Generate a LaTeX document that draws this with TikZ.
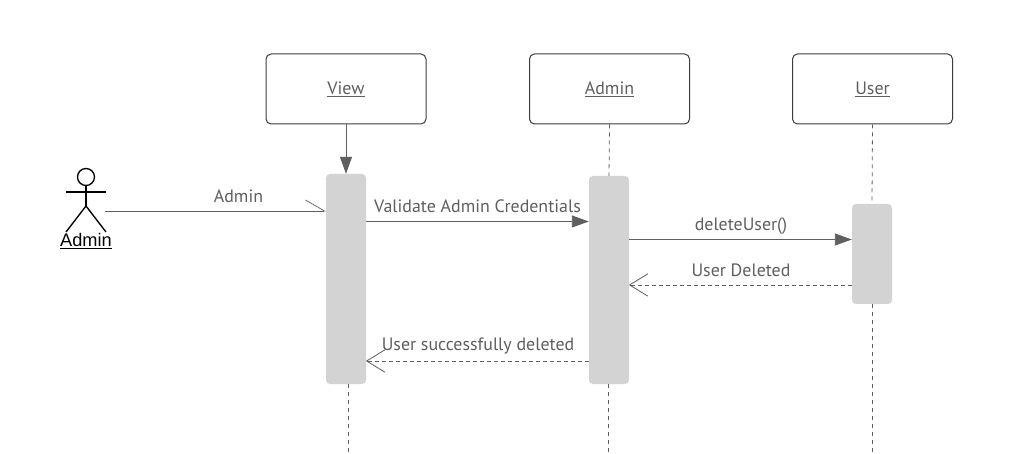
\documentclass[tikz,border=0pt]{standalone}
\usepackage{fontspec}
\setmainfont{PT Sans}
\newfontfamily\actorfont{Liberation Sans}
\usetikzlibrary{arrows.meta}
\definecolor{ink}{HTML}{5F5F5F}
\definecolor{barcol}{HTML}{D3D3D3}
\definecolor{boxline}{HTML}{3C3C3C}
\begin{document}
\begin{tikzpicture}[x=1pt,y=-1pt,
  head/.style={draw=boxline,line width=1pt,rounded corners=5pt,fill=white,minimum width=160pt,minimum height=70pt,inner sep=0pt,text=ink,font=\fontsize{17.9}{20}\selectfont},
  activation/.style={fill=barcol,rounded corners=4pt,minimum width=40pt,inner sep=0pt},
  msglabel/.style={text=ink,font=\fontsize{17.9}{20}\selectfont,inner sep=0pt,anchor=base},
  life/.style={draw=ink,line width=0.8pt,dash pattern=on 4pt off 4pt},
  call/.style={draw=ink,line width=0.9pt,-{Triangle[length=17pt,width=12pt,fill=ink]}},
  back/.style={draw=ink,line width=0.9pt,dash pattern=on 4pt off 3pt,-{Straight Barb[length=18pt,width=22pt,line width=0.8pt,round=false]}},
  found/.style={draw=ink,line width=0.8pt,-{Straight Barb[length=19pt,width=22pt,left,line width=0.7pt]}},
  figure/.style={draw=black,line width=1.35pt}]
\useasboundingbox (0,0) rectangle (1023,454);
\fill[white] (0,0) rectangle (1023,454);
% heads
\node[head] (view) at (346,89) {\underline{View}};
\node[head] (admin) at (609.5,89) {\underline{Admin}};
\node[head] (user) at (872.5,89) {\underline{User}};
% free ends
\coordinate (viewend) at (348,452);
\coordinate (adminend) at (608,452);
\coordinate (userend) at (872,454);
% activation bars
\node[activation,minimum height=210pt] (viewact) at (346,279) {};
\node[activation,minimum height=208pt] (adminact) at (609,280) {};
\node[activation,minimum height=100pt] (useract) at (872,254) {};
% lifelines
\draw[call] (view.south) -- (viewact.north);
\draw[life] (admin.south) -- (adminact.north);
\draw[life] (user.south) -- (useract.north);
\draw[life] (viewact.south -| viewend) -- (viewend);
\draw[life] (adminact.south -| adminend) -- (adminend);
\draw[life] (useract.south -| userend) -- (userend);
% actor
\node[circle,draw=black,line width=1.35pt,minimum size=17pt,inner sep=0pt] (ahead) at (86,177) {};
\coordinate (larm) at (66,192);
\coordinate (rarm) at (106,192);
\coordinate (hip) at (86,206);
\coordinate (lfoot) at (66,232);
\coordinate (rfoot) at (106,232);
\draw[figure] (larm) -- (rarm);
\draw[figure] (ahead.south) -- (hip);
\draw[figure] (lfoot) -- (hip) -- (rfoot);
\node[inner sep=0pt,anchor=base,font=\fontsize{18.2}{20}\selectfont\actorfont] (alabel) at (86,246.5) {\underline{Admin}};
% message levels
\coordinate (m1) at (105,211);
\coordinate (y2) at (0,221.5);
\coordinate (y3) at (0,239.5);
\coordinate (y4) at (0,285);
\coordinate (y5) at (0,361);
% messages
\draw[found] (m1) -- (viewact.west |- m1);
\draw[call] (viewact.east |- y2) -- (adminact.west |- y2);
\draw[call] (adminact.east |- y3) -- (useract.west |- y3);
\draw[back] (useract.west |- y4) -- ([xshift=0pt]adminact.east |- y4);
\draw[back] (adminact.west |- y5) -- ([xshift=0pt]viewact.east |- y5);
% labels
\node[msglabel] (l1) at (238.5,203) {Admin};
\node[msglabel] (l2) at (477.5,212.5) {Validate Admin Credentials};
\node[msglabel] (l3) at (741,230.5) {deleteUser()};
\node[msglabel] (l4) at (741,276.5) {User Deleted};
\node[msglabel] (l5) at (478,351) {User successfully deleted};
\end{tikzpicture}
\end{document}
